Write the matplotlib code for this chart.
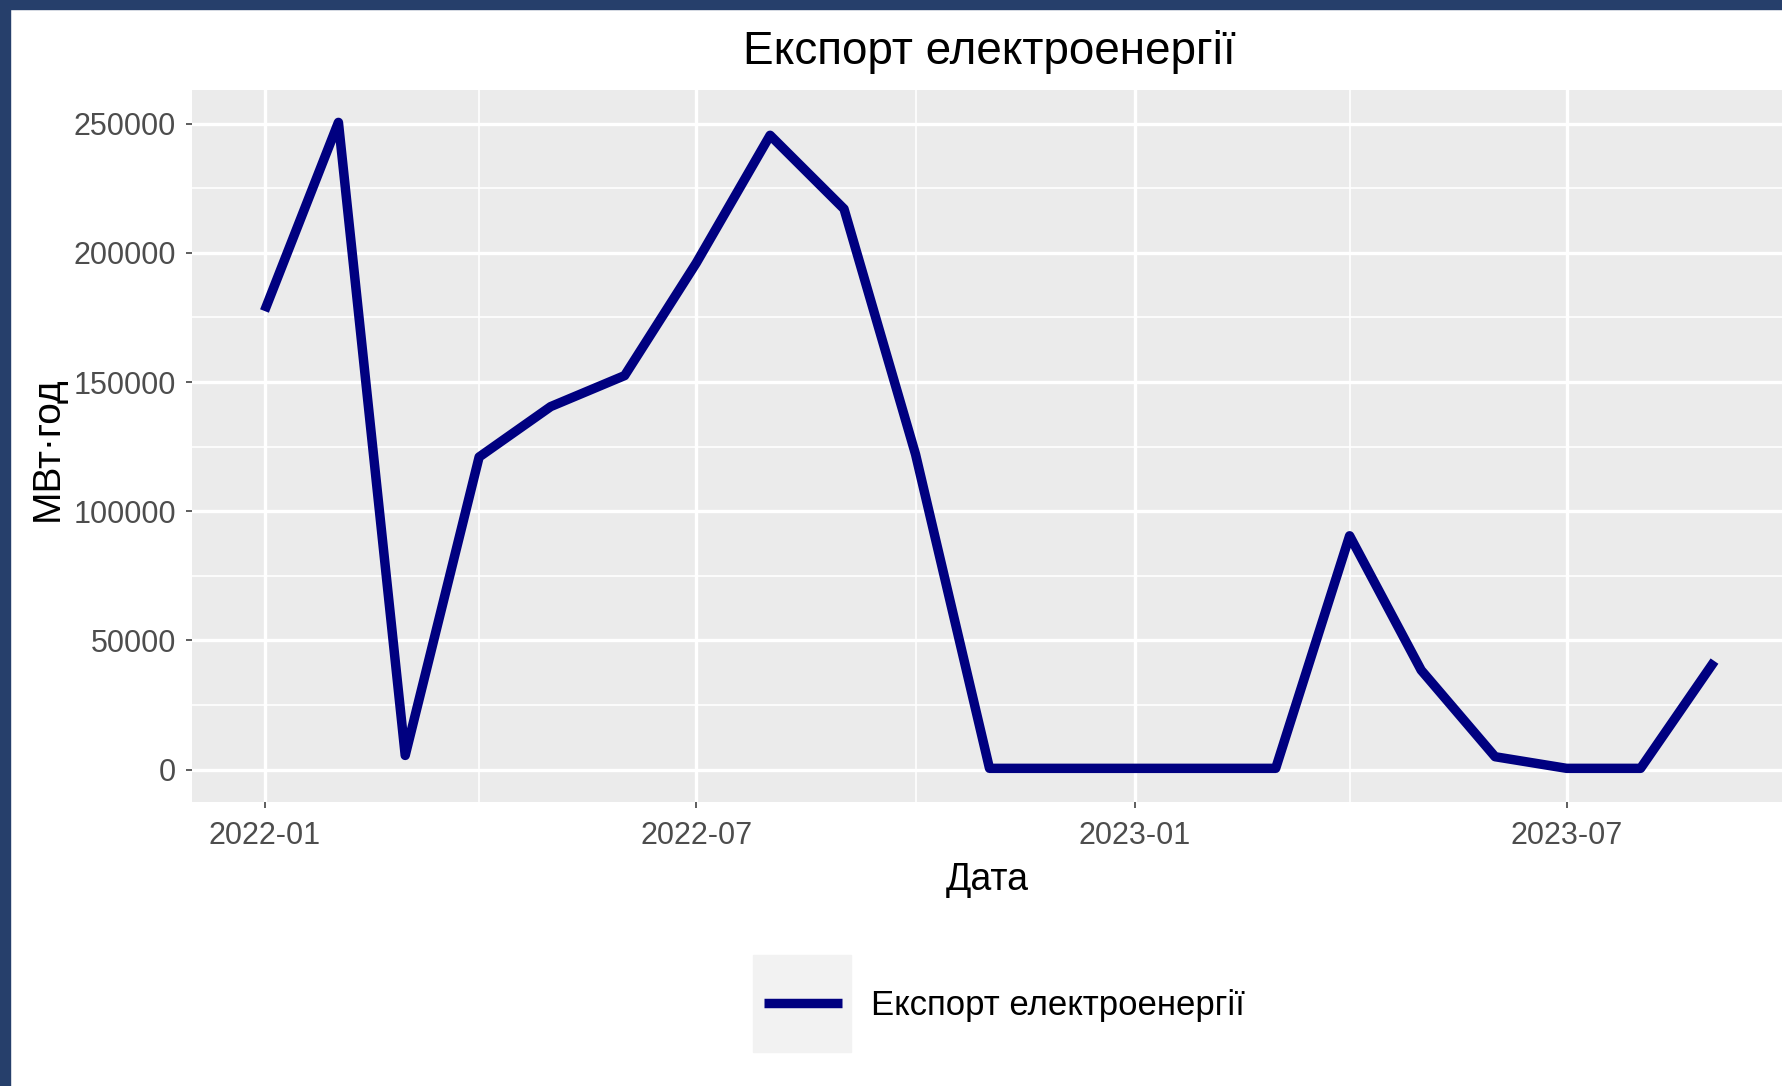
import datetime as dt
import matplotlib
matplotlib.use("Agg")
import matplotlib.pyplot as plt
import matplotlib.dates as mdates
from matplotlib.patches import Rectangle

plt.rcParams["font.family"] = ["Liberation Sans", "DejaVu Sans"]

# monthly export, MWh
months = [
    "2022-01", "2022-02", "2022-03", "2022-04", "2022-05", "2022-06", "2022-07",
    "2022-08", "2022-09", "2022-10", "2022-11", "2022-12", "2023-01", "2023-02",
    "2023-03", "2023-04", "2023-05", "2023-06", "2023-07", "2023-08", "2023-09",
]
export_mwh = [
    177500, 250500, 5500, 121000, 140500, 152500, 196000,
    245500, 217000, 122000, 500, 500, 500, 500,
    500, 90500, 38500, 5000, 500, 500, 42000,
]
major_ticks = ["2022-01", "2022-07", "2023-01", "2023-07"]
minor_ticks = ["2021-10", "2022-04", "2022-10", "2023-04", "2023-10"]
y_ticks = [0, 50000, 100000, 150000, 200000, 250000]

title = "Експорт електроенергії"
series_name = "Експорт електроенергії"


def to_date(s):
    return dt.datetime.strptime(s, "%Y-%m")


dates = [to_date(m) for m in months]

W, H = 1783, 1086
fig = plt.figure(figsize=(W / 100, H / 100), dpi=100)
fig.patch.set_facecolor("white")

# dark blue frame on top and left
frame_col = "#263f6b"
fig.patches.append(Rectangle((0, 1 - 9 / H), 1, 9 / H, transform=fig.transFigure,
                             color=frame_col, zorder=10))
fig.patches.append(Rectangle((0, 0), 10 / W, 1, transform=fig.transFigure,
                             color=frame_col, zorder=10))

# panel in pixel coordinates
left, right, top, bottom = 192, 1787, 90, 802
ax = fig.add_axes([left / W, 1 - bottom / H, (right - left) / W, (bottom - top) / H])
ax.set_facecolor("#ebebeb")
for s in ax.spines.values():
    s.set_visible(False)

ax.plot(dates, export_mwh, color="#000080", lw=6.8,
        solid_capstyle="butt", solid_joinstyle="round", label=series_name, zorder=3)

ax.set_xticks([to_date(t) for t in major_ticks])
ax.set_xticks([to_date(t) for t in minor_ticks], minor=True)
ax.xaxis.set_major_formatter(mdates.DateFormatter("%Y-%m"))
ax.set_yticks(y_ticks)
ax.set_yticks([25000, 75000, 125000, 175000, 225000], minor=True)
ax.set_yticklabels([str(v) for v in y_ticks])

# ggplot-style expansion (after ticks, so they don't widen the view)
span = dates[-1] - dates[0]
ax.set_xlim(dates[0] - span * 0.05, dates[-1] + span * 0.05)
ymax = max(export_mwh)
ax.set_ylim(-ymax * 0.05, ymax * 1.05)

ax.grid(which="major", color="white", lw=2.4)
ax.grid(which="minor", color="white", lw=1.2)
ax.set_axisbelow(True)

ax.tick_params(which="major", length=4.5, width=1.1, color="#333333",
               labelsize=22, labelcolor="#4d4d4d", pad=7)
ax.tick_params(axis="x", which="major", pad=9.5)
ax.tick_params(which="minor", length=0)

ax.set_xlabel("Дата", fontsize=27, color="black")
ax.xaxis.set_label_coords((987 - left) / (right - left), (bottom - 880) / (bottom - top))
ax.xaxis.label.set_va("center")
ax.set_ylabel("МВт·год", fontsize=28, color="black")
ax.yaxis.set_label_coords((48 - left) / (right - left), (bottom - 449) / (bottom - top))
ax.yaxis.label.set_va("center")

ax.set_title(title, fontsize=33, color="black", pad=0,
             y=(bottom - 52) / (bottom - top), va="center")

# legend at the bottom, with a grey key box
fig.patches.append(Rectangle((753 / W, 1 - 1052 / H), 98 / W, 97 / H,
                             transform=fig.transFigure, color="#f2f2f2", zorder=0))
fig.legend(loc="center left", bbox_to_anchor=(764 / W, 1 - 1006 / H),
           frameon=False, fontsize=25, handlelength=2.25, handletextpad=0.84,
           borderpad=0, borderaxespad=0, labelcolor="black")

fig.savefig("out.png", dpi=100)
